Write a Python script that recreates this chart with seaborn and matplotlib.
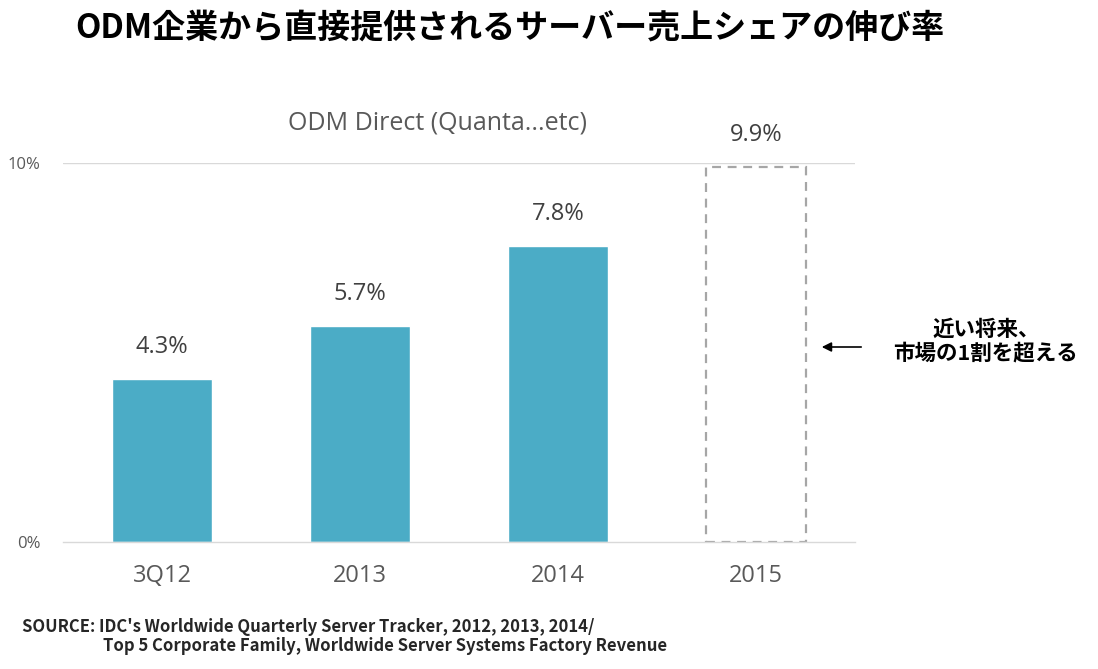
import seaborn as sns
import matplotlib.pyplot as plt
import pandas as pd

periods = ['3Q12', '2013', '2014', '2015']
share = [4.3, 5.7, 7.8, 9.9]
share_labels = ['4.3%', '5.7%', '7.8%', '9.9%']
ytick_vals = [0, 10]
ytick_labels = ['0%', '10%']

title = 'ODM企業から直接提供されるサーバー売上シェアの伸び率'
subtitle = 'ODM Direct (Quanta...etc)'
note = '近い将来、\n市場の1割を超える'
source1 = "SOURCE: IDC's Worldwide Quarterly Server Tracker, 2012, 2013, 2014/"
source2 = 'Top 5 Corporate Family, Worldwide Server Systems Factory Revenue'

sns.set_theme(style='white')
plt.rcParams['font.family'] = ['Open Sans', 'Noto Sans CJK JP', 'DejaVu Sans']

dt = pd.DataFrame({'period': periods, 'share': share})

fig = plt.figure(figsize=(10.98, 6.69), dpi=100)
ax = fig.add_axes([63 / 1098, 1 - 542 / 669, (855 - 63) / 1098, (542 - 163) / 669])

sns.barplot(data=dt, x='period', y='share', color='#4BACC6', saturation=1,
            width=0.505, ax=ax)

# last bar is the forecast: dashed outline only
last = ax.patches[-1]
last.set_facecolor('none')
last.set_edgecolor('#A6A6A6')
last.set_linestyle((0, (4, 3)))
last.set_linewidth(1.6)

for i, (v, lab) in enumerate(zip(share, share_labels)):
    ax.text(i, v + 0.85, lab, ha='center', va='center', fontsize=17,
            color='#404040', clip_on=False)

ax.set_xlim(-0.5, 3.5)
ax.set_ylim(0, 10)
ax.set_yticks(ytick_vals)
ax.set_yticklabels(ytick_labels, fontsize=12, color='#595959')
ax.axhline(10, color='#D9D9D9', lw=1, zorder=0)
ax.tick_params(axis='x', labelsize=17, labelcolor='#595959', pad=16, length=0)
ax.tick_params(axis='y', length=0, pad=16)
ax.set_xlabel('')
ax.set_ylabel('')
for s in ['top', 'right', 'left']:
    ax.spines[s].set_visible(False)
ax.spines['bottom'].set_color('#D9D9D9')
ax.spines['bottom'].set_linewidth(1)

fig.text(75 / 1098, 1 - 28 / 669, title, fontsize=23.8, fontweight='bold',
         family=['Noto Sans CJK JP', 'DejaVu Sans'], va='center', ha='left', color='black')
fig.text(438 / 1098, 1 - 123 / 669, subtitle, fontsize=18, color='#595959',
         ha='center', va='center')
fig.text(986 / 1098, 1 - 341 / 669, note, fontsize=15.5, fontweight='bold',
         family=['Noto Sans CJK JP', 'DejaVu Sans'], ha='center', va='center',
         linespacing=1.15, color='black')
fig.add_artist(plt.Annotation('', xy=(819 / 1098, 1 - 347 / 669),
                              xytext=(864 / 1098, 1 - 347 / 669),
                              xycoords='figure fraction', textcoords='figure fraction',
                              arrowprops=dict(arrowstyle='-|>', color='black', lw=1.2,
                                              mutation_scale=14)))
fig.text(22 / 1098, 1 - 627 / 669, source1, fontsize=12, fontweight='bold',
         family=['Noto Sans CJK JP', 'DejaVu Sans'], ha='left', va='center')
fig.text(103 / 1098, 1 - 646 / 669, source2, fontsize=12, fontweight='bold',
         family=['Noto Sans CJK JP', 'DejaVu Sans'], ha='left', va='center')

fig.savefig('out.png', dpi=100)
